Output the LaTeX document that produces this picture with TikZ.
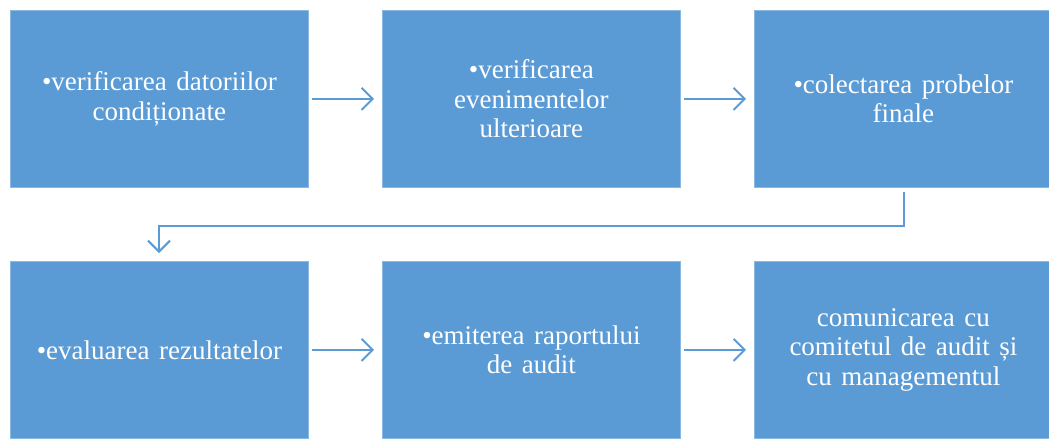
\documentclass[tikz,border=0pt]{standalone}
\usepackage{fontspec}
\setmainfont[WordSpace={1.4,1,1}]{Liberation Serif}
\usetikzlibrary{arrows.meta}
\definecolor{boxblue}{HTML}{5B9BD5}
\begin{document}
\begin{tikzpicture}[x=1pt,y=-1pt,
  stepbox/.style={fill=boxblue, draw=boxblue!70!white, line width=0.8pt, minimum width=298pt, minimum height=177pt, inner sep=0pt, anchor=north west, align=center, text=white, font=\fontsize{27}{29.5}\selectfont},
  conn/.style={draw=boxblue, line width=2pt, -{Straight Barb[length=11pt,width=22pt,line width=2pt]}}]
\useasboundingbox (0,0) rectangle (1049,439);
\node[stepbox] (b1) at (10,10) {•verificarea datoriilor\\condiționate};
\node[stepbox] (b2) at (382,10) {•verificarea\\evenimentelor\\ulterioare};
\node[stepbox] (b3) at (754,10) {•colectarea probelor\\finale};
\node[stepbox] (b4) at (10,261) {•evaluarea rezultatelor};
\node[stepbox] (b5) at (382,261) {•emiterea raportului\\de audit};
\node[stepbox] (b6) at (754,261) {comunicarea cu\\comitetul de audit și\\cu managementul};
\draw[conn] ([xshift=3pt]b1.east) -- ([xshift=-8pt]b2.west);
\draw[conn] ([xshift=3pt]b2.east) -- ([xshift=-8pt]b3.west);
\draw[conn] ([xshift=3pt]b4.east) -- ([xshift=-8pt]b5.west);
\draw[conn] ([xshift=3pt]b5.east) -- ([xshift=-8pt]b6.west);
\coordinate (t) at ([xshift=-149pt,yshift=-4pt]b3.south east);
\coordinate (m) at ([xshift=149pt,yshift=35pt]b4.north west);
\coordinate (e) at ([xshift=149pt,yshift=8pt]b4.north west);
\draw[conn] (t) |- (m) -- (e);
\end{tikzpicture}
\end{document}
